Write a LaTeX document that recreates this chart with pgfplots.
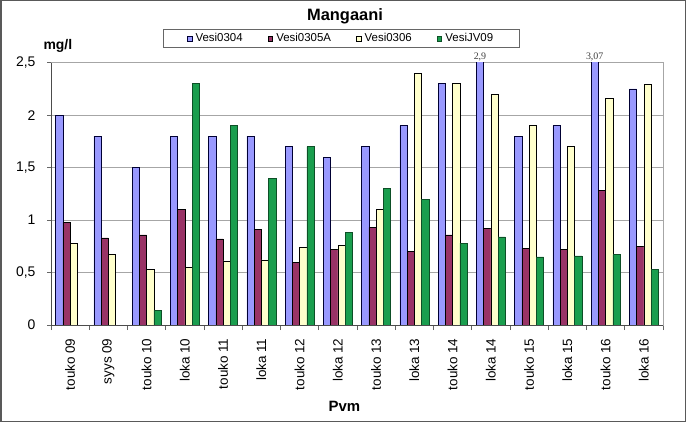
\documentclass[border=0pt]{standalone}
\usepackage{fontspec}
\setmainfont{Liberation Sans}
\newfontfamily\serifnum{Liberation Serif}
\usepackage{pgfplots}
\pgfplotsset{compat=1.18}
\definecolor{cBlue}{HTML}{9999FF}
\definecolor{cPurple}{HTML}{993366}
\definecolor{cYellow}{HTML}{FFFFCC}
\definecolor{cGreen}{HTML}{1A9E4E}
\pgfplotsset{myleg/.style={legend image code/.code={\draw[##1,line width=0.5bp] (0bp,-2.3bp) rectangle (4.6bp,2.3bp);}}}
\begin{document}
\begin{tikzpicture}
\path[use as bounding box] (0bp,0bp) rectangle (686bp,422bp);
\draw[line width=1.5bp, draw=black!65] (0.75bp,0.75bp) rectangle (685.25bp,421.25bp);
\begin{axis}[
  at={(51bp,97bp)}, anchor=south west,
  scale only axis, width=612bp, height=262.3bp,
  xmin=-0.5, xmax=15.5, ymin=0, ymax=2.5,
  ybar, bar width=0.19,
  clip mode=individual,
  ytick={0,0.5,1,1.5,2,2.5},
  xtick={0,...,15},
  xticklabels={touko 09,syys 09,touko 10,loka 10,touko 11,loka 11,touko 12,loka 12,touko 13,loka 13,touko 14,loka 14,touko 15,loka 15,touko 16,loka 16},
  minor xtick={-0.5,0.5,...,15.5},
  xtick pos=bottom, ytick pos=left,
  tick align=outside,
  major tick length=4bp, minor tick length=5bp,
  major x tick style={draw=none},
  minor x tick style={draw=black!60, line width=0.6bp},
  major y tick style={draw=black!60, line width=0.6bp},
  ymajorgrids, grid style={draw=black!35, line width=0.8bp},
  axis line style={draw=black!35, line width=0.8bp},
  /pgf/number format/use comma,
  /pgf/number format/assume math mode=true,
  yticklabel style={font=\fontsize{14}{15}\selectfont},
  yticklabel shift=8bp,
  xticklabel style={rotate=90, anchor=east, font=\fontsize{13.5}{14}\selectfont},
  xticklabel shift=6bp,
  legend columns=4,
  legend style={at={(0.474,1.092)}, anchor=center, draw=black!60, line width=0.6bp,
    font=\fontsize{11.5}{12}\selectfont, inner xsep=24bp, inner ysep=2bp,
    column sep=1.5bp, /tikz/every even column/.append style={column sep=23bp}},
]
\addplot[fill=cBlue, draw=black!80!blue, line width=0.5bp, bar shift=-0.285, myleg] coordinates {
(0,2.0) (1,1.8) (2,1.5) (3,1.8) (4,1.8) (5,1.8) (6,1.7) (7,1.6)
(8,1.7) (9,1.9) (10,2.3) (11,2.9) (12,1.8) (13,1.9) (14,3.07) (15,2.25)};
\addlegendentry{Vesi0304}
\addplot[fill=cPurple, draw=black, line width=0.5bp, bar shift=-0.095, myleg] coordinates {
(0,0.98) (1,0.83) (2,0.86) (3,1.10) (4,0.82) (5,0.91) (6,0.60) (7,0.72)
(8,0.93) (9,0.70) (10,0.86) (11,0.92) (12,0.73) (13,0.72) (14,1.28) (15,0.75)};
\addlegendentry{Vesi0305A}
\addplot[fill=cYellow, draw=black, line width=0.5bp, bar shift=0.095, myleg] coordinates {
(0,0.78) (1,0.67) (2,0.53) (3,0.55) (4,0.61) (5,0.62) (6,0.74) (7,0.76)
(8,1.10) (9,2.40) (10,2.30) (11,2.20) (12,1.90) (13,1.70) (14,2.16) (15,2.29)};
\addlegendentry{Vesi0306}
\addplot[fill=cGreen, draw=black!50!cGreen, line width=0.5bp, bar shift=0.285, myleg] coordinates {
(2,0.14) (3,2.30) (4,1.90) (5,1.40) (6,1.70) (7,0.88)
(8,1.30) (9,1.20) (10,0.78) (11,0.84) (12,0.65) (13,0.66) (14,0.67) (15,0.53)};
\addlegendentry{VesiJV09}
\draw[black!70, line width=0.8bp] (rel axis cs:0,1) -- (rel axis cs:0,0) -- (rel axis cs:1,0);
\node[font=\serifnum\fontsize{10}{10}\selectfont, anchor=south, inner sep=1.5bp, text=black!75] at (axis cs:10.715,2.5) {2,9};
\node[font=\serifnum\fontsize{10}{10}\selectfont, anchor=south, inner sep=1.5bp, text=black!75] at (axis cs:13.715,2.5) {3,07};
\end{axis}
\node[anchor=base, font=\bfseries\fontsize{16.5}{16.5}\selectfont] at (345bp,401bp) {Mangaani};
\node[anchor=base west, font=\bfseries\fontsize{14}{14}\selectfont] at (40bp,372.5bp) {mg/l};
\node[anchor=base, font=\bfseries\fontsize{15}{15}\selectfont] at (344.5bp,11bp) {Pvm};
\end{tikzpicture}
\end{document}
